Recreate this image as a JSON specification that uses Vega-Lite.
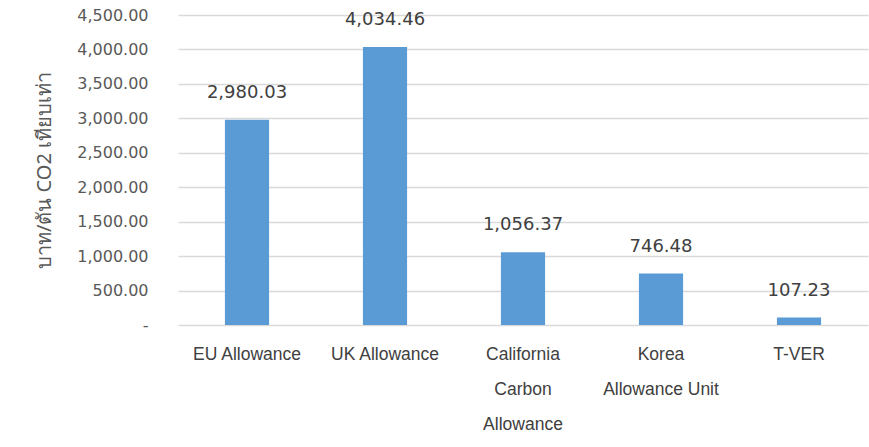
{
  "$schema": "https://vega.github.io/schema/vega-lite/v6.json",
  "autosize": "none",
  "width": 690,
  "height": 310,
  "padding": {"left": 178, "top": 15, "right": 1, "bottom": 122},
  "background": "white",
  "data": {
    "values": [
      {"market": "EU Allowance", "price": 2980.03},
      {"market": "UK Allowance", "price": 4034.46},
      {"market": "California|Carbon|Allowance", "price": 1056.37},
      {"market": "Korea|Allowance Unit", "price": 746.48},
      {"market": "T-VER", "price": 107.23}
    ]
  },
  "encoding": {
    "x": {
      "field": "market",
      "type": "nominal",
      "sort": null,
      "scale": {"paddingInner": 0.68, "paddingOuter": 0.34},
      "axis": {
        "title": null,
        "labelAngle": 0,
        "labelExpr": "split(datum.label, '|')",
        "labelLineHeight": 35,
        "labelFont": "Liberation Sans, sans-serif",
        "labelFontSize": 17.5,
        "labelColor": "#404040",
        "labelPadding": 29,
        "labelBaseline": "middle",
        "ticks": false,
        "domain": false
      }
    },
    "y": {
      "field": "price",
      "type": "quantitative",
      "scale": {"domain": [0, 4500]},
      "axis": {
        "title": "บาท/ตัน CO2 เทียบเท่า",
        "titleFont": "Noto Sans, sans-serif",
        "titleFontSize": 20,
        "titleFontWeight": "normal",
        "titleColor": "#595959",
        "titlePadding": 22,
        "values": [0, 500, 1000, 1500, 2000, 2500, 3000, 3500, 4000, 4500],
        "labelExpr": "datum.value == 0 ? '-' : format(datum.value, ',.2f')",
        "labelFont": "DejaVu Sans, sans-serif",
        "labelFontSize": 16,
        "labelColor": "#595959",
        "labelPadding": 30,
        "ticks": false,
        "domain": false,
        "grid": true,
        "gridColor": "#d9d9d9",
        "gridWidth": 1.5
      }
    }
  },
  "layer": [
    {"mark": {"type": "bar", "color": "#5b9bd5"}},
    {
      "mark": {
        "type": "text",
        "baseline": "bottom",
        "dy": -18,
        "font": "DejaVu Sans, sans-serif",
        "fontSize": 18,
        "color": "#404040"
      },
      "encoding": {"text": {"field": "price", "type": "quantitative", "format": ",.2f"}}
    }
  ],
  "config": {"view": {"stroke": null}}
}
